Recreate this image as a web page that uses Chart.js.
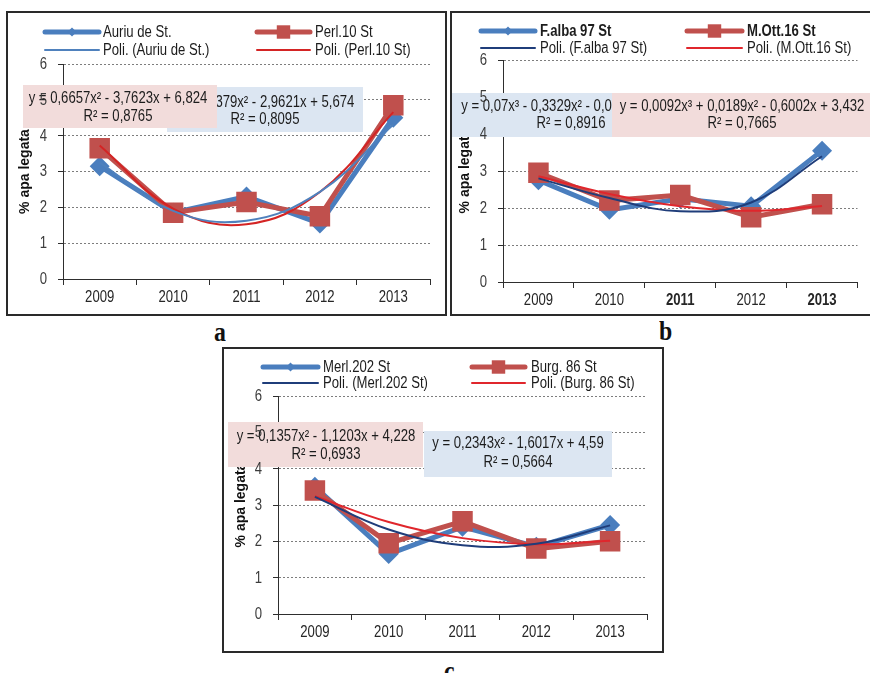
<!DOCTYPE html>
<html>
<head>
<meta charset="utf-8">
<script src="https://cdn.jsdelivr.net/npm/chart.js@4.4.1/dist/chart.umd.min.js"></script>
<style>
  html, body { margin: 0; padding: 0; background: #fff; }
  body { width: 870px; height: 673px; overflow: hidden; position: relative; }
  .panel { position: absolute; border: 2px solid #2a2a2a; box-sizing: border-box; background: #fff; }
  .panel canvas { position: absolute; left: 0; top: 0; }
  .tag { position: absolute; font: bold 28px "Liberation Serif", "DejaVu Serif", serif; line-height: 28px;
         transform: scaleX(0.85); transform-origin: left top; color: #111; }
</style>
</head>
<body>
<div class="panel" style="left:6px;top:11px;width:441px;height:305px;"><canvas id="chartA" width="437" height="301"></canvas></div>
<div class="panel" style="left:450px;top:11px;width:424px;height:305px;"><canvas id="chartB" width="420" height="301"></canvas></div>
<div class="panel" style="left:222px;top:347px;width:442px;height:306px;"><canvas id="chartC" width="438" height="302"></canvas></div>
<div class="tag" style="left:214px;top:318px;">a</div>
<div class="tag" style="left:659px;top:317px;">b</div>
<div class="tag" style="left:444px;top:657px;">c</div>

<script>
// ---- data -------------------------------------------------------------
const years = ['2009', '2010', '2011', '2012', '2013'];

// a
const auriuName = 'Auriu de St.';
const auriuVals = [3.15, 1.85, 2.3, 1.55, 4.5];
const auriuFit  = [5.674, -2.9621, 0.5379];          // c0 + c1·x + c2·x²
const auriuR2   = 0.8095;
const perlName  = 'Perl.10 St';
const perlVals  = [3.65, 1.85, 2.15, 1.75, 4.85];
const perlFit   = [6.824, -3.7623, 0.6657];
const perlR2    = 0.8765;

// b
const falbaName = 'F.alba 97 St';
const falbaVals = [2.75, 1.95, 2.25, 2.05, 3.55];
const falbaFit  = [3.087, -0.023, -0.3329, 0.07];    // c0 + c1·x + c2·x² + c3·x³
const falbaR2   = 0.8916;
const mottName  = 'M.Ott.16 St';
const mottVals  = [2.95, 2.2, 2.35, 1.75, 2.1];
const mottFit   = [3.432, -0.6002, 0.0189, 0.0092];
const mottR2    = 0.7665;

// c
const merlName  = 'Merl.202 St';
const merlVals  = [3.5, 1.65, 2.4, 1.85, 2.45];
const merlFit   = [4.59, -1.6017, 0.2343];
const merlR2    = 0.5664;
const burgName  = 'Burg. 86 St';
const burgVals  = [3.4, 1.95, 2.55, 1.8, 2.0];
const burgFit   = [4.228, -1.1203, 0.1357];
const burgR2    = 0.6933;

// ---- fonts: a tall, condensed sans for all chart text ------------------
const probe = document.createElement('canvas').getContext('2d');
function fontExists(name) {
  const s = 'mmmmwwwwiiiilll0123';
  probe.font = '32px monospace';
  const base = probe.measureText(s).width;
  probe.font = '32px "' + name + '", monospace';
  return probe.measureText(s).width !== base;
}
const HAS_NARROW = fontExists('Liberation Sans Narrow');
const FAMILY = HAS_NARROW ? '"Liberation Sans Narrow", sans-serif' : '"Liberation Sans", Arial, sans-serif';
const SQUEEZE = HAS_NARROW ? 1 : 0.82;
const SIZE = 16;

function text(ctx, str, x, y, align, opts) {
  opts = opts || {};
  ctx.save();
  ctx.font = (opts.bold ? 'bold ' : '') + SIZE + 'px ' + FAMILY;
  ctx.fillStyle = opts.color || '#1c1c1c';
  ctx.textAlign = align;
  ctx.textBaseline = 'middle';
  ctx.translate(x, y);
  ctx.scale(SQUEEZE, 1);
  ctx.fillText(str, 0, 0);
  ctx.restore();
}

// ---- colours ----------------------------------------------------------
const BLUE = '#4A7EBE';
const RED = '#C0504D';
const AXIS = '#2e2e2e';
const PINK_BOX = '#F2DCDB';
const BLUE_BOX = '#DCE6F2';

// ---- helpers ----------------------------------------------------------
const polyAt = (c, x) => c.reduce((s, a, k) => s + a * Math.pow(x, k), 0);
const comma = v => String(v).replace('.', ',');
function eqText(c) {
  const sup = ['', '', '²', '³'];
  let s = 'y = ';
  for (let k = c.length - 1; k >= 0; k--) {
    const v = c[k];
    const term = comma(Math.abs(v)) + (k >= 1 ? 'x' + sup[k] : '');
    if (k === c.length - 1) s += (v < 0 ? '-' : '') + term;
    else s += (v < 0 ? ' - ' : ' + ') + term;
  }
  return s;
}
const r2Text = r => 'R² = ' + comma(r);

function marker(ctx, style, x, y, r) {
  ctx.beginPath();
  if (style === 'rectRot') {
    ctx.moveTo(x - r, y); ctx.lineTo(x, y - r); ctx.lineTo(x + r, y); ctx.lineTo(x, y + r);
  } else {
    const h = r * Math.SQRT1_2;
    ctx.rect(x - h, y - h, 2 * h, 2 * h);
  }
  ctx.closePath();
  ctx.fill();
}

// legend drawn as a 2 x 2 grid above the plot
const legendPlugin = {
  id: 'gridLegend',
  afterDraw(chart, args, opts) {
    const ctx = chart.ctx;
    opts.items.forEach(it => {
      const ds = chart.data.datasets[it.ds];
      ctx.save();
      ctx.strokeStyle = ds.borderColor;
      ctx.lineWidth = ds.borderWidth;
      ctx.lineCap = 'round';
      ctx.beginPath();
      ctx.moveTo(it.x1, it.y); ctx.lineTo(it.x2, it.y);
      ctx.stroke();
      if (ds.pointRadius > 0) {
        ctx.fillStyle = ds.pointBackgroundColor;
        marker(ctx, ds.pointStyle, (it.x1 + it.x2) / 2, it.y, ds.pointStyle === 'rect' ? 9.5 : 4.5);
      }
      ctx.restore();
      text(ctx, ds.label, it.tx, it.y + 1, 'left', { bold: it.bold });
    });
  }
};

// equation boxes over the grid, then the tick labels, then the series
const eqPlugin = {
  id: 'eqBoxes',
  beforeDatasetsDraw(chart, args, opts) {
    const ctx = chart.ctx;
    opts.boxes.forEach(b => {
      ctx.save();
      ctx.fillStyle = b.fill;
      ctx.fillRect(b.x, b.y, b.w, b.h);
      ctx.restore();
      b.lines.forEach((t, i) => text(ctx, t, b.cx, b.ly[i], 'center'));
    });
    const ys = chart.scales.y;
    const lx = ys.right - 16;
    ys.ticks.forEach(t => text(ctx, String(t.value), lx, ys.getPixelForValue(t.value) + 0.5, 'right', { color: '#3c3c3c' }));
    const xs = chart.scales.x;
    chart.data.labels.forEach((lab, i) =>
      text(ctx, lab, xs.getPixelForTick(i), xs.top + 19, 'center',
           { color: '#262626', bold: opts.boldYears.includes(i) }));
  }
};

function buildPanel(id, p) {
  const trendA = years.map((_, i) => polyAt(p.fitA, i + 1));
  const trendB = years.map((_, i) => polyAt(p.fitB, i + 1));
  const boxes = p.boxes.map(b => Object.assign({}, b, {
    lines: b.series === 'A' ? [eqText(p.fitA), r2Text(p.r2A)] : [eqText(p.fitB), r2Text(p.r2B)]
  }));
  return new Chart(document.getElementById(id), {
    type: 'line',
    data: {
      labels: years,
      datasets: [
        { label: p.nameA, data: p.valsA, borderColor: BLUE, backgroundColor: BLUE, borderWidth: 5,
          pointStyle: 'rectRot', pointRadius: 10, pointBackgroundColor: BLUE, pointBorderWidth: 0,
          pointHoverRadius: 10, tension: 0, order: 2 },
        { label: p.nameB, data: p.valsB, borderColor: RED, backgroundColor: RED, borderWidth: 5,
          pointStyle: 'rect', pointRadius: 14.5, pointBackgroundColor: RED, pointBorderWidth: 0,
          pointHoverRadius: 14.5, tension: 0, order: 1 },
        { label: 'Poli. (' + p.nameA + ')', data: trendA, borderColor: p.trendBlue, borderWidth: 2,
          pointRadius: 0, tension: 0.4, order: 0 },
        { label: 'Poli. (' + p.nameB + ')', data: trendB, borderColor: p.trendRed, borderWidth: 2,
          pointRadius: 0, tension: 0.4, order: 0 }
      ]
    },
    options: {
      responsive: false,
      animation: false,
      devicePixelRatio: 1,
      events: [],
      layout: { padding: { left: 0, right: p.padRight, top: p.padTop, bottom: 0 } },
      plugins: {
        legend: { display: false },
        tooltip: { enabled: false },
        gridLegend: { items: p.legend },
        eqBoxes: { boxes: boxes, boldYears: p.boldYears }
      },
      scales: {
        x: {
          offset: true,
          grid: { offset: true, drawOnChartArea: false, drawTicks: true, tickLength: 6,
                  tickColor: AXIS, tickWidth: 1 },
          border: { color: AXIS, width: 1 },
          ticks: { display: false, autoSkip: false },
          afterFit: s => { s.height = p.xH; }
        },
        y: {
          min: 0, max: 6,
          ticks: { display: false, stepSize: 1 },
          grid: { color: '#7d7d7d', lineWidth: 1, drawTicks: true, tickLength: 5, tickColor: AXIS },
          border: { color: AXIS, width: 1, dash: [2, 2] },
          title: {
            display: true, text: '% apa legata', color: '#111',
            font: { family: '"Liberation Sans", Arial, sans-serif', size: 14, weight: 'bold' },
            padding: { top: p.titlePad, bottom: 0 }
          },
          afterFit: s => { s.width = p.yW; }
        }
      }
    },
    plugins: [eqPlugin, legendPlugin]
  });
}

buildPanel('chartA', {
  nameA: auriuName, valsA: auriuVals, fitA: auriuFit, r2A: auriuR2,
  nameB: perlName,  valsB: perlVals,  fitB: perlFit,  r2B: perlR2,
  trendBlue: '#4F81BD', trendRed: '#D42424',
  yW: 55, xH: 35, padTop: 51, padRight: 15, titlePad: 9, boldYears: [],
  legend: [
    { ds: 0, x1: 37, x2: 91, tx: 95, y: 19 },
    { ds: 1, x1: 249, x2: 302, tx: 307, y: 19 },
    { ds: 2, x1: 37, x2: 91, tx: 95, y: 37 },
    { ds: 3, x1: 249, x2: 302, tx: 307, y: 37 }
  ],
  boxes: [
    { series: 'A', fill: BLUE_BOX, x: 159, y: 74, w: 196, h: 45, cx: 257, ly: [90, 107] },
    { series: 'B', fill: PINK_BOX, x: 15, y: 72, w: 194, h: 43, cx: 110, ly: [86, 104] }
  ]
});

buildPanel('chartB', {
  nameA: falbaName, valsA: falbaVals, fitA: falbaFit, r2A: falbaR2,
  nameB: mottName,  valsB: mottVals,  fitB: mottFit,  r2B: mottR2,
  trendBlue: '#1F3D7A', trendRed: '#E0262C',
  yW: 51, xH: 32, padTop: 47, padRight: 9, titlePad: 5, boldYears: [2, 4],
  legend: [
    { ds: 0, x1: 29, x2: 83, tx: 88, y: 18, bold: true },
    { ds: 1, x1: 235, x2: 290, tx: 295, y: 18, bold: true },
    { ds: 2, x1: 29, x2: 83, tx: 88, y: 35 },
    { ds: 3, x1: 235, x2: 290, tx: 295, y: 35 }
  ],
  boxes: [
    { series: 'A', fill: BLUE_BOX, x: 0, y: 80, w: 160, h: 44, cx: 119, ly: [94, 111] },
    { series: 'B', fill: PINK_BOX, x: 160, y: 80, w: 260, h: 44, cx: 290, ly: [94, 111] }
  ]
});

buildPanel('chartC', {
  nameA: merlName, valsA: merlVals, fitA: merlFit, r2A: merlR2,
  nameB: burgName, valsB: burgVals, fitB: burgFit, r2B: burgR2,
  trendBlue: '#1F3D7A', trendRed: '#E0262C',
  yW: 54, xH: 37, padTop: 47, padRight: 15, titlePad: 9, boldYears: [],
  legend: [
    { ds: 0, x1: 39, x2: 94, tx: 99, y: 18 },
    { ds: 1, x1: 248, x2: 301, tx: 307, y: 18 },
    { ds: 2, x1: 39, x2: 94, tx: 99, y: 34 },
    { ds: 3, x1: 248, x2: 301, tx: 307, y: 34 }
  ],
  boxes: [
    { series: 'B', fill: PINK_BOX, x: 4, y: 73, w: 195, h: 45, cx: 102, ly: [88, 106] },
    { series: 'A', fill: BLUE_BOX, x: 200, y: 82, w: 188, h: 46, cx: 294, ly: [95, 114] }
  ]
});
</script>
</body>
</html>
